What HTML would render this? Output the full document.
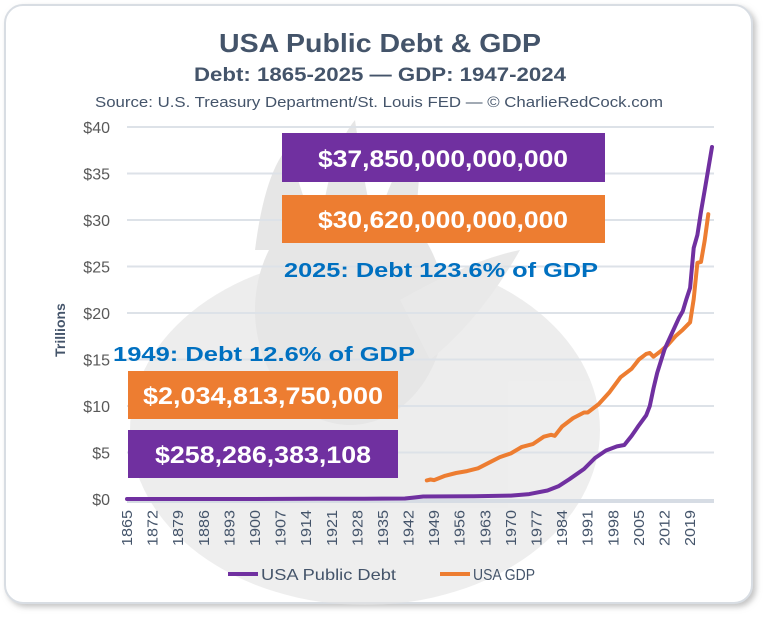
<!DOCTYPE html>
<html><head><meta charset="utf-8"><style>
html,body{margin:0;padding:0;background:#fff;width:767px;height:617px;overflow:hidden}
svg{display:block;font-family:"Liberation Sans",sans-serif}
</style></head><body>
<svg id="chart" width="767" height="617" viewBox="0 0 767 617">
<defs>
<filter id="sh" x="-5%" y="-5%" width="110%" height="110%"><feDropShadow dx="3" dy="3" stdDeviation="3" flood-color="#888" flood-opacity="0.5"/></filter>
</defs>
<rect x="5" y="5" width="747" height="598" rx="18" fill="#fff" stroke="#d8dde3" stroke-width="2" filter="url(#sh)"/>
<g opacity="0.6">
<ellipse cx="365" cy="430" rx="235" ry="175" fill="#e2e2e2"/>
<ellipse cx="350" cy="310" rx="95" ry="115" fill="#d6d6d6"/>
<path d="M255,250 Q265,170 290,145 Q300,200 320,230 Q330,150 355,120 Q365,190 375,230 Q395,160 420,140 Q420,200 410,250 Z" fill="#d6d6d6"/>
<path d="M400,300 Q470,260 520,250 Q480,320 430,360 Z" fill="#dcdcdc"/>
</g>
<text x="380" y="52" text-anchor="middle" font-size="26" font-weight="bold" fill="#44546a" textLength="322" lengthAdjust="spacingAndGlyphs">USA Public Debt &amp; GDP</text>
<text x="380" y="81" text-anchor="middle" font-size="19" font-weight="bold" fill="#44546a" textLength="372" lengthAdjust="spacingAndGlyphs">Debt: 1865-2025 — GDP: 1947-2024</text>
<text x="379" y="107" text-anchor="middle" font-size="15" fill="#44546a" textLength="568" lengthAdjust="spacingAndGlyphs">Source: U.S. Treasury Department/St. Louis FED  — © CharlieRedCock.com</text>
<text transform="translate(65,330) rotate(-90)" text-anchor="middle" font-size="14" font-weight="bold" fill="#44546a">Trillions</text>
<g id="grid"></g><g id="ylab"></g><g id="xlab"></g><g id="series"></g>
<rect x="282" y="133" width="323" height="49" fill="#7030a0"/>
<text x="443" y="167" text-anchor="middle" font-size="24" font-weight="bold" fill="#fff" textLength="250" lengthAdjust="spacingAndGlyphs">$37,850,000,000,000</text>
<rect x="282" y="195" width="323" height="48" fill="#ed7d31"/>
<text x="443" y="228" text-anchor="middle" font-size="24" font-weight="bold" fill="#fff" textLength="250" lengthAdjust="spacingAndGlyphs">$30,620,000,000,000</text>
<text x="441" y="277" text-anchor="middle" font-size="20" font-weight="bold" fill="#0070c0" textLength="314" lengthAdjust="spacingAndGlyphs">2025: Debt 123.6% of GDP</text>
<text x="264" y="361" text-anchor="middle" font-size="20" font-weight="bold" fill="#0070c0" textLength="302" lengthAdjust="spacingAndGlyphs">1949: Debt 12.6% of GDP</text>
<rect x="128" y="371" width="270" height="48" fill="#ed7d31"/>
<text x="263" y="404" text-anchor="middle" font-size="24" font-weight="bold" fill="#fff" textLength="240" lengthAdjust="spacingAndGlyphs">$2,034,813,750,000</text>
<rect x="128" y="430" width="270" height="48" fill="#7030a0"/>
<text x="263" y="463" text-anchor="middle" font-size="24" font-weight="bold" fill="#fff" textLength="216" lengthAdjust="spacingAndGlyphs">$258,286,383,108</text>
<g>
<line x1="228" y1="574" x2="258" y2="574" stroke="#7030a0" stroke-width="4"/>
<text x="261" y="580" font-size="16" fill="#44546a" textLength="135" lengthAdjust="spacingAndGlyphs">USA Public Debt</text>
<line x1="440" y1="574" x2="470" y2="574" stroke="#ed7d31" stroke-width="4"/>
<text x="473" y="580" font-size="16" fill="#44546a" textLength="62" lengthAdjust="spacingAndGlyphs">USA GDP</text>
</g>
</svg>
<script>
const yTicks=[0,5,10,15,20,25,30,35,40];
const yTickLabels=["$0","$5","$10","$15","$20","$25","$30","$35","$40"];
const xTickYears=[1865,1872,1879,1886,1893,1900,1907,1914,1921,1928,1935,1942,1949,1956,1963,1970,1977,1984,1991,1998,2005,2012,2019];
const debtYears=[1865,1900,1917,1919,1930,1941,1943,1946,1960,1970,1975,1980,1983,1986,1990,1993,1996,1999,2001,2003,2005,2007,2008,2009,2010,2012,2014,2016,2017,2018,2019,2020,2021,2022,2023,2024,2025];
const debtValues=[0.0,0.0,0.02,0.03,0.02,0.05,0.14,0.27,0.29,0.37,0.53,0.91,1.37,2.13,3.23,4.41,5.22,5.66,5.81,6.78,7.93,9.0,10.0,11.9,13.56,16.07,17.8,19.5,20.2,21.5,22.7,27.0,28.4,30.9,33.2,35.5,37.85];
const gdpYears=[1947,1948,1949,1952,1955,1958,1961,1964,1967,1970,1973,1976,1979,1981,1982,1984,1987,1990,1991,1994,1997,2000,2003,2005,2007,2008,2009,2011,2013,2015,2017,2019,2020,2021,2022,2023,2024];
const gdpValues=[2.0,2.1,2.03,2.5,2.8,3.0,3.3,3.9,4.5,4.9,5.6,5.9,6.7,6.9,6.8,7.8,8.7,9.3,9.3,10.2,11.5,13.1,14.0,15.0,15.6,15.7,15.3,15.9,16.6,17.5,18.2,19.0,21.5,25.4,25.5,27.8,30.62];
const NS="http://www.w3.org/2000/svg";
const x0=127,x1=712,yr0=1865,yr1=2025,yB=499,yT=127,vMax=40;
const X=y=>x0+(y-yr0)*(x1-x0)/(yr1-yr0);
const Y=v=>yB-v*(yB-yT)/vMax;
function mk(t,a,p){const e=document.createElementNS(NS,t);for(const k in a)e.setAttribute(k,a[k]);p.appendChild(e);return e;}
const grid=document.getElementById('grid'),ylab=document.getElementById('ylab'),xlab=document.getElementById('xlab'),ser=document.getElementById('series');
yTicks.forEach((v,i)=>{
 if(v>0){const l=mk('line',{x1:x0,x2:x1+2,y1:Y(v),y2:Y(v),stroke:'#dde2e8','stroke-width':2},grid);
 
 }
 const t=mk('text',{x:110,y:Y(v)+6,'text-anchor':'end','font-size':16,fill:'#595959'},ylab);
 t.textContent=yTickLabels[i];
 
 
});
const ax=mk('line',{x1:x0,x2:x1+2,y1:yB+2,y2:yB+2,stroke:'#d6dce4','stroke-width':4},grid);


xTickYears.forEach(y=>{
 const t=mk('text',{transform:`translate(${X(y)+5},546) rotate(-90)`,'font-size':15,fill:'#44546a',textLength:36,lengthAdjust:'spacingAndGlyphs'},xlab);
 t.textContent=y;
 
 
});
function line(ys,vs,c,name){
 const p=mk('polyline',{points:ys.map((y,i)=>X(y).toFixed(1)+','+Y(vs[i]).toFixed(1)).join(' '),fill:'none',stroke:c,'stroke-width':4,'stroke-linejoin':'round','stroke-linecap':'round'},ser);
 
 
}
line(gdpYears,gdpValues,'#ed7d31','gdp-line');
line(debtYears,debtValues,'#7030a0','debt-line');
</script>
</body></html>
